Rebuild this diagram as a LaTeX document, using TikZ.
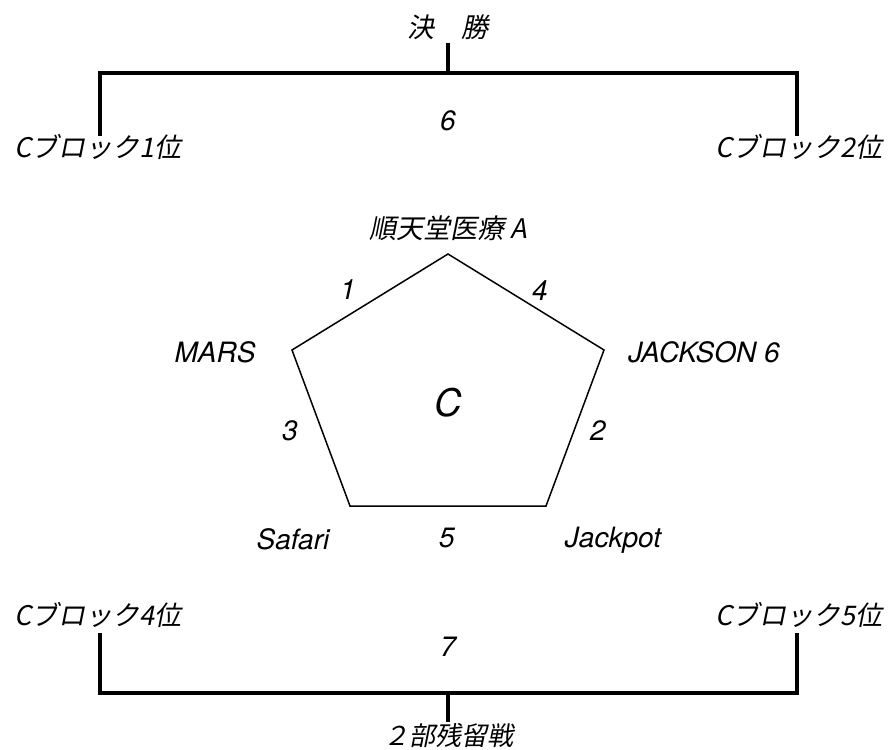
\documentclass[tikz,border=0pt]{standalone}
\usepackage{fontspec}
\setmainfont{TeX Gyre Heros}
\newfontfamily\jp{Noto Sans CJK JP}[FakeSlant=0.2]
\begin{document}
\begin{tikzpicture}[x=1pt,y=-1pt,
  lbl/.style={font=\fontsize{28}{30}\selectfont\itshape, inner sep=0pt, anchor=center},
  jl/.style={font=\fontsize{27}{30}\selectfont\jp, inner sep=0pt, anchor=center},
  bracket/.style={line width=3.2pt},
  pent/.style={line width=1.5pt, line join=miter}]
\useasboundingbox (0,0) rectangle (895,750);
% top bracket
\node[jl] (final) at (448,27) {決　勝};
\coordinate (ft) at (448,43);
\coordinate (fm) at (448,73);
\coordinate (fl) at (100,73);
\coordinate (fr) at (797,73);
\coordinate (fla) at (100,136);
\coordinate (fra) at (797,136);
\draw[bracket] (ft) -- (fm);
\draw[bracket] (fla) -- (fl) -- (fr) -- (fra);
\node[lbl] (six) at (448,121) {6};
\node[jl] (c1) at (98,147) {Cブロック1位};
\node[jl] (c2) at (799,147) {Cブロック2位};
% pentagon
\coordinate (A) at (448,254);
\coordinate (J) at (604,350);
\coordinate (K) at (546,506);
\coordinate (S) at (350,506);
\coordinate (M) at (292,350);
\draw[pent] (A) -- (J) -- (K) -- (S) -- (M) -- cycle;
\node[jl] (juntendo) at (448,228) {順天堂医療 A};
\node[lbl] (mars) at (215,352) {MARS};
\node[lbl] (jackson) at (704,352) {JACKSON 6};
\node[lbl] (safari) at (293,539) {Safari};
\node[lbl] (jackpot) at (613,540) {Jackpot};
\node[lbl] (e1) at (348,290) {1};
\node[lbl] (e4) at (540,291) {4};
\node[lbl] (e3) at (290,431) {3};
\node[lbl] (e2) at (598,431) {2};
\node[lbl] (e5) at (447,538) {5};
\node[font=\fontsize{38}{40}\selectfont\itshape, inner sep=0pt] (cc) at (448,403) {C};
% bottom bracket
\node[jl] (c4) at (98,615) {Cブロック4位};
\node[jl] (c5) at (799,615) {Cブロック5位};
\node[lbl] (seven) at (448,647) {7};
\coordinate (bla) at (100,633);
\coordinate (bra) at (797,633);
\coordinate (bl) at (100,693);
\coordinate (br) at (797,693);
\coordinate (bm) at (448,693);
\coordinate (bb) at (448,722);
\draw[bracket] (bla) -- (bl) -- (br) -- (bra);
\draw[bracket] (bm) -- (bb);
\node[jl, font=\fontsize{26}{28}\selectfont\jp] (zanryu) at (448,735) {２部残留戦};
\end{tikzpicture}
\end{document}
